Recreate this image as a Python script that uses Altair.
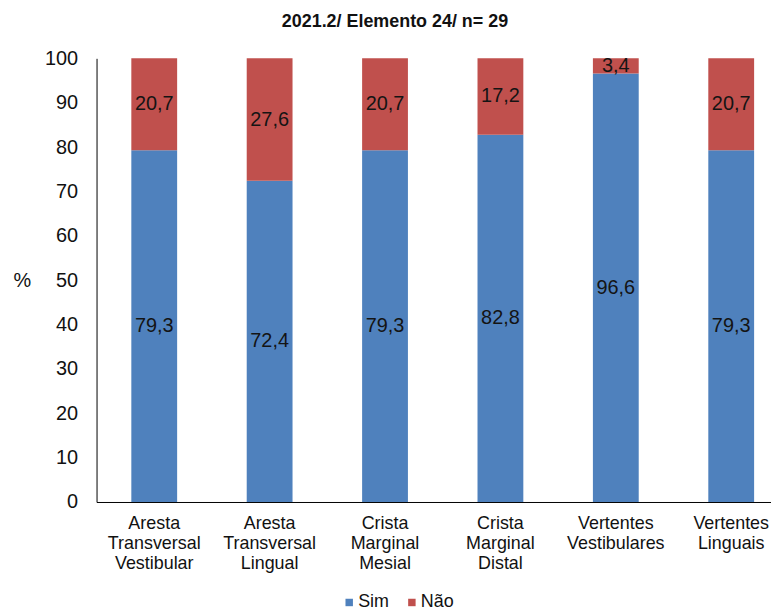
import altair as alt
import pandas as pd

categories = [
    "Aresta\nTransversal\nVestibular",
    "Aresta\nTransversal\nLingual",
    "Crista\nMarginal\nMesial",
    "Crista\nMarginal\nDistal",
    "Vertentes\nVestibulares",
    "Vertentes\nLinguais",
]
sim = [79.3, 72.4, 79.3, 82.8, 96.6, 79.3]
nao = [20.7, 27.6, 20.7, 17.2, 3.4, 20.7]
series = ["Sim", "Não"]
colors = ["#4F81BD", "#C0504D"]
y_ticks = [0, 10, 20, 30, 40, 50, 60, 70, 80, 90, 100]
title_text = "2021.2/ Elemento 24/ n= 29"

rows = []
for c, s, n in zip(categories, sim, nao):
    rows.append({"cat": c, "serie": series[0], "ord": 0, "value": s,
                 "label": f"{s:.1f}".replace(".", ",")})
    rows.append({"cat": c, "serie": series[1], "ord": 1, "value": n,
                 "label": f"{n:.1f}".replace(".", ",")})
df = pd.DataFrame(rows)

FONT = "Liberation Sans, Arial, sans-serif"

x_enc = alt.X(
    "cat:N", sort=categories, title=None,
    scale=alt.Scale(range=[0, 696], paddingInner=0.603, paddingOuter=0.3015),
    axis=alt.Axis(labelAngle=0, labelExpr="split(datum.label, '\\n')",
                  labelFontSize=18, labelLineHeight=20, labelPadding=13,
                  labelColor="#111111", labelFont=FONT, ticks=False,
                  domainColor="#000000", domainWidth=1),
)

y_scale = alt.Scale(domain=[0, 100], nice=False)

bars = alt.Chart(df).mark_bar().encode(
    x=x_enc,
    y=alt.Y("value:Q", stack="zero", scale=y_scale,
            axis=alt.Axis(values=y_ticks, title="%", titleAngle=0,
                          titleX=-75, titleY=223, titleAlign="center",
                          titleBaseline="middle", titleFontSize=20,
                          titleFontWeight="normal", titleFont=FONT,
                          titleColor="#111111",
                          labelFontSize=20, labelFont=FONT, labelColor="#111111",
                          labelPadding=19, ticks=False, grid=False,
                          domainColor="#000000", domainWidth=1)),
    color=alt.Color("serie:N", scale=alt.Scale(domain=series, range=colors),
                    legend=alt.Legend(title=None, orient="none", direction="horizontal",
                                      legendX=245, legendY=538, symbolType="square",
                                      symbolSize=56, symbolStrokeWidth=0,
                                      labelFontSize=18, labelFont=FONT,
                                      labelColor="#111111", labelOffset=0,
                                      columnPadding=14, padding=0)),
    order=alt.Order("ord:Q"),
)

texts = alt.Chart(df).transform_stack(
    stack="value", groupby=["cat"], as_=["y0", "y1"],
    sort=[alt.SortField("ord", order="ascending")],
).transform_calculate(
    mid="(datum.y0 + datum.y1) / 2"
).mark_text(fontSize=20, font=FONT, color="#141414", baseline="middle").encode(
    x=alt.X("cat:N", sort=categories),
    y=alt.Y("mid:Q", scale=y_scale),
    text="label:N",
)

chart = alt.layer(bars, texts).properties(
    width=678, height=446,
    title=alt.TitleParams(title_text, fontSize=18, fontWeight="bold", font=FONT,
                          color="#111111", anchor="middle", dx=-39, offset=17),
    autosize=alt.AutoSizeParams(type="none"),
    padding={"left": 89, "top": 49, "right": 0, "bottom": 112},
).configure_view(stroke=None)

chart.save("out.html", embed_options={"renderer": "svg", "actions": False})
